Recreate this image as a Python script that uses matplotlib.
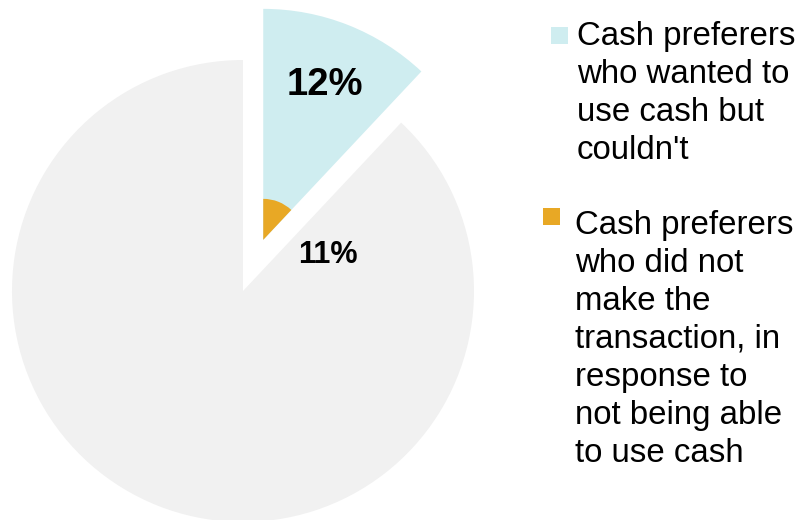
import matplotlib
matplotlib.use("Agg")
import matplotlib.pyplot as plt
from matplotlib.patches import Rectangle

plt.rcParams["font.family"] = ["Liberation Sans", "DejaVu Sans"]

# data
shares = [12, 88]                      # % of cash preferers
inner_share_label = "11%"
legend_labels = [
    "Cash preferers\nwho wanted to\nuse cash but\ncouldn't",
    "Cash preferers\nwho did not\nmake the\ntransaction, in\nresponse to\nnot being able\nto use cash",
]
colors = ["#CFEDF0", "#F1F1F1"]
inner_color = "#E8A825"

W, H = 798, 520
fig = plt.figure(figsize=(W / 100, H / 100), dpi=100)
ax = fig.add_axes([0, 0, 1, 1])

center = (243, H - 291)
radius = 231
explode = 55

wedges, _, autotexts = ax.pie(
    shares, colors=colors, startangle=90, counterclock=False,
    radius=radius, center=center, explode=(explode, 0),
    autopct=lambda p: f"{p:.0f}%" if p < 50 else "", pctdistance=0.72,
    wedgeprops=dict(linewidth=0), frame=True)
for t in autotexts:
    t.set_fontsize(27.5)
    t.set_fontweight("bold")

# small inner wedge at the apex of the exploded slice
ax.pie(shares, colors=[inner_color, "none"], startangle=90, counterclock=False,
       radius=41, center=center, explode=(explode, 0),
       wedgeprops=dict(linewidth=0), frame=True)
ax.set_xlim(0, W)
ax.set_ylim(0, H)
ax.set_aspect("equal")
ax.axis("off")

ax.text(328, H - 255, inner_share_label, fontsize=22, fontweight="bold",
        ha="center", va="center")

# legend
ax.add_patch(Rectangle((551, H - 44), 17, 17, color=colors[0], linewidth=0))
ax.add_patch(Rectangle((543, H - 225), 17, 17, color=inner_color, linewidth=0))
ax.text(577, H - 21, legend_labels[0], fontsize=23.8, ha="left", va="top",
        linespacing=1.29)
ax.text(575, H - 210, legend_labels[1], fontsize=23.8, ha="left", va="top",
        linespacing=1.29)

fig.savefig("out.png", dpi=100)
